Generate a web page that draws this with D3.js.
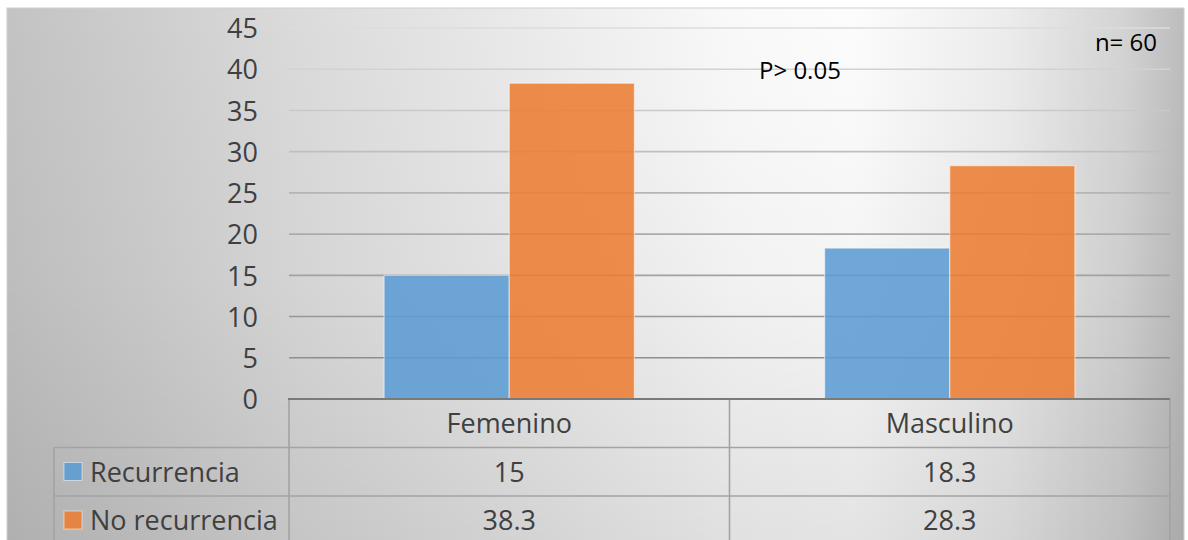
<!DOCTYPE html>
<html>
<head>
<meta charset="utf-8">
<script src="https://cdn.jsdelivr.net/npm/d3@7"></script>
<style>
  body { margin: 0; background: #fff; }
  svg { display: block; font-family: "Open Sans", Lato, sans-serif; }
</style>
</head>
<body>
<div id="chart"></div>
<script>
//data
var categories = ['Femenino', 'Masculino'];
var series = ['Recurrencia', 'No recurrencia'];
var recurrencia = [15, 18.3];
var noRecurrencia = [38.3, 28.3];
var yTicks = [0, 5, 10, 15, 20, 25, 30, 35, 40, 45];
var pLabel = 'P> 0.05';
var nLabel = 'n= 60';

var values = [recurrencia, noRecurrencia];

//dims
var width = 1188;
var height = 540;
var plotLeft = 289, plotRight = 1170;
var plotTop = 28, plotBottom = 399;
var rowH = 48.5;
var tableLeft = 54;
var font = '"Open Sans", sans-serif';

//color scale
var color = d3.scaleOrdinal().domain(series).range(['#5B9BD5', '#ED7D31']);

var svg = d3.select('#chart')
    .append('svg')
    .attr('width', width)
    .attr('height', height);

var defs = svg.append('defs');

// chart background, light around the top right, grey to the edges
var hg = defs.append('linearGradient')
    .attr('id', 'bgH')
    .attr('x1', 0).attr('x2', 1).attr('y1', 0).attr('y2', 0);
[[0, '#c3c3c3'], [0.12, '#cecece'], [0.25, '#dbdbdb'], [0.45, '#ebebeb'],
 [0.62, '#f9f9f9'], [0.72, '#fcfcfc'], [0.85, '#ececec'], [0.95, '#d3d3d3'], [1, '#bcbcbc']]
  .forEach(function(s) {
    hg.append('stop').attr('offset', s[0]).attr('stop-color', s[1]);
  });

var vg = defs.append('linearGradient')
    .attr('id', 'bgV')
    .attr('x1', 0).attr('x2', 0).attr('y1', 0).attr('y2', 1);
vg.append('stop').attr('offset', 0).attr('stop-color', '#000').attr('stop-opacity', 0);
vg.append('stop').attr('offset', 0.5).attr('stop-color', '#000').attr('stop-opacity', 0.03);
vg.append('stop').attr('offset', 1).attr('stop-color', '#000').attr('stop-opacity', 0.1);

svg.append('rect')
    .attr('x', 7).attr('y', 8)
    .attr('width', 1177).attr('height', 540)
    .attr('fill', 'url(#bgH)')
    .attr('stroke', '#d0d0d0');

svg.append('rect')
    .attr('x', 7.5).attr('y', 8.5)
    .attr('width', 1176).attr('height', 540)
    .attr('fill', 'url(#bgV)');

//scales
var y = d3.scaleLinear()
  .domain([0, 45])
  .range([plotBottom, plotTop]);

var x = d3.scaleBand()
  .domain(categories)
  .range([plotLeft, plotRight]);

var xSub = d3.scaleBand()
  .domain(series)
  .range([0, x.bandwidth()])
  .paddingOuter(0.76);

// gridlines get darker toward the bottom
var gridColor = d3.scaleLinear()
  .domain([5, 45])
  .range(['#8e8e8e', '#dcdcdc'])
  .interpolate(d3.interpolateRgb);

svg.append('g')
  .selectAll('line')
  .data(yTicks.filter(function(d) { return d > 0; }))
  .enter()
  .append('line')
  .attr('x1', plotLeft)
  .attr('x2', plotRight)
  .attr('y1', function(d) { return y(d); })
  .attr('y2', function(d) { return y(d); })
  .attr('stroke', function(d) { return gridColor(d); })
  .attr('stroke-width', 1.6);

// y axis labels (no axis line)
var yAxis = svg.append('g')
  .attr('transform', 'translate(258,0)')
  .call(d3.axisLeft(y).tickValues(yTicks).tickSize(0).tickPadding(0));
yAxis.select('.domain').remove();
yAxis.selectAll('text')
  .attr('font-size', 27)
  .attr('font-family', font)
  .attr('fill', '#404040')
  .attr('dy', '0.36em');

//draw bars
var groups = svg.append('g')
  .selectAll('g')
  .data(series)
  .enter()
  .append('g');

groups.selectAll('rect')
  .data(function(s, si) {
    return categories.map(function(c, ci) {
      return { series: s, cat: c, value: values[si][ci] };
    });
  })
  .enter()
  .append('rect')
  .attr('x', function(d) { return x(d.cat) + xSub(d.series); })
  .attr('width', xSub.bandwidth())
  .attr('y', function(d) { return y(d.value); })
  .attr('height', function(d) { return y(0) - y(d.value); })
  .attr('fill', function(d) { return color(d.series); })
  .attr('fill-opacity', 0.87)
  .attr('stroke', '#fff')
  .attr('stroke-opacity', 0.5)
  .attr('stroke-width', 1.2);

// data table below the plot
var lineColor = '#a3a3a3';
var rowTops = [plotBottom, plotBottom + rowH, plotBottom + 2 * rowH, plotBottom + 3 * rowH];
var table = svg.append('g');

[1, 2].forEach(function(r) {
  table.append('line')
    .attr('x1', tableLeft).attr('x2', plotRight)
    .attr('y1', rowTops[r]).attr('y2', rowTops[r])
    .attr('stroke', lineColor).attr('stroke-width', 1.6);
});

table.append('line')
  .attr('x1', tableLeft).attr('x2', tableLeft)
  .attr('y1', rowTops[1]).attr('y2', height + 10)
  .attr('stroke', lineColor).attr('stroke-width', 1.6);

[plotLeft].concat(categories.map(function(c) { return x(c) + x.bandwidth(); }))
  .forEach(function(vx) {
    table.append('line')
      .attr('x1', vx).attr('x2', vx)
      .attr('y1', plotBottom).attr('y2', height + 10)
      .attr('stroke', lineColor).attr('stroke-width', 1.6);
  });

// category axis line
svg.append('line')
  .attr('x1', plotLeft - 1).attr('x2', plotRight)
  .attr('y1', plotBottom).attr('y2', plotBottom)
  .attr('stroke', '#7a7a7a')
  .attr('stroke-width', 2.2);

// header row
table.selectAll('text.cat')
  .data(categories)
  .enter()
  .append('text')
  .attr('class', 'cat')
  .attr('x', function(d) { return x(d) + x.bandwidth() / 2; })
  .attr('y', rowTops[0] + 34)
  .attr('text-anchor', 'middle')
  .attr('font-size', 27)
  .attr('fill', '#404040')
  .text(function(d) { return d; });

// series rows
series.forEach(function(s, si) {
  var top = rowTops[si + 1];
  table.append('rect')
    .attr('x', 64).attr('y', top + 15)
    .attr('width', 18).attr('height', 18)
    .attr('fill', color(s))
    .attr('fill-opacity', 0.87)
    .attr('stroke', '#fff')
    .attr('stroke-opacity', 0.5);
  table.append('text')
    .attr('x', 90)
    .attr('y', top + 34)
    .attr('font-size', 27)
    .attr('fill', '#404040')
    .text(s);
  table.selectAll('text.v' + si)
    .data(values[si])
    .enter()
    .append('text')
    .attr('class', 'v' + si)
    .attr('x', function(d, i) { return x(categories[i]) + x.bandwidth() / 2; })
    .attr('y', top + 34)
    .attr('text-anchor', 'middle')
    .attr('font-size', 27)
    .attr('fill', '#404040')
    .text(function(d) { return d; });
});

// annotations
svg.append('text')
  .attr('x', 759).attr('y', 79)
  .attr('font-size', 24)
  .attr('fill', '#000')
  .text(pLabel);

svg.append('text')
  .attr('x', 1157).attr('y', 51)
  .attr('text-anchor', 'end')
  .attr('font-size', 24)
  .attr('fill', '#000')
  .text(nLabel);
</script>
</body>
</html>
